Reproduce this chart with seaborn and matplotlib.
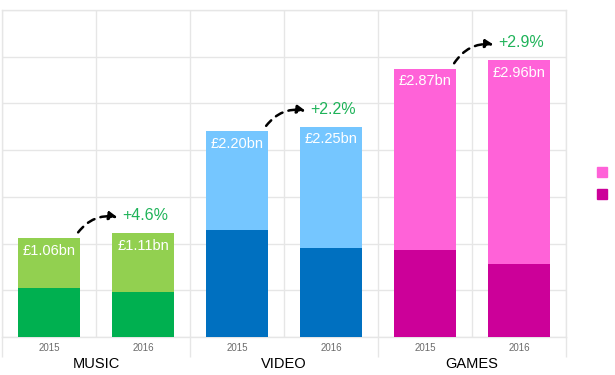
import seaborn as sns
import pandas as pd
import matplotlib.pyplot as plt
from matplotlib.patches import Patch

# UK entertainment market, £bn
categories = ['MUSIC', 'VIDEO', 'GAMES']
years = ['2015', '2016']
totals = [1.06, 1.11, 2.20, 2.25, 2.87, 2.96]
physical = [0.52, 0.48, 1.15, 0.95, 0.93, 0.78]
growth = ['+4.6%', '+2.2%', '+2.9%']

light_colors = ['#92d050', '#92d050', '#75c6ff', '#75c6ff', '#ff62d8', '#ff62d8']
dark_colors = ['#00b050', '#00b050', '#0070c0', '#0070c0', '#cc0099', '#cc0099']
grid_color = '#e6e6e6'

sns.set_theme(style='white')
plt.rcParams['font.family'] = ['Liberation Sans', 'DejaVu Sans']

keys = [f'{c} {y}' for c in categories for y in years]
df = pd.DataFrame({'key': keys, 'total': totals, 'physical': physical})

fig = plt.figure(figsize=(6.15, 3.75), dpi=100)
ax = fig.add_axes([2 / 615, 1 - 337 / 375, 564 / 615, 327 / 375])

sns.barplot(data=df, x='key', y='total', hue='key', palette=light_colors, saturation=1,
            width=0.67, legend=False, ax=ax, zorder=3, linewidth=0)
sns.barplot(data=df, x='key', y='physical', hue='key', palette=dark_colors, saturation=1,
            width=0.67, legend=False, ax=ax, zorder=4, linewidth=0)

ax.set_xlim(-0.5, 5.5)
ax.set_ylim(0, 3.5)
ax.set_yticks([i * 0.5 for i in range(8)])
ax.set_xticks(range(6))
ax.set_xticklabels(years * 3, fontsize=7, color='#6b6b6b')
ax.set_xticks([i - 0.5 for i in range(7)], minor=True)
ax.tick_params(axis='x', which='both', length=0, pad=4)
ax.tick_params(axis='y', left=False, labelleft=False)
ax.grid(True, axis='y', color=grid_color, lw=1, zorder=0)
ax.grid(True, axis='x', which='minor', color=grid_color, lw=1, zorder=0)
ax.grid(False, axis='x', which='major')
ax.set(xlabel='', ylabel='')
for s in ax.spines.values():
    s.set_color(grid_color)
    s.set_linewidth(1)

# separators between groups run down past the axis
ax.vlines([-0.5, 1.5, 3.5, 5.5], -0.21, 0, colors=grid_color, lw=1, clip_on=False)

# value labels inside the bars
for i, v in enumerate(totals):
    ax.text(i, v - 0.135, f'£{v:.2f}bn', color='white', fontsize=10.5,
            ha='center', va='center', zorder=5)

# growth arrows and percentages
for g, c in enumerate(categories):
    a, b = 2 * g, 2 * g + 1
    ax.annotate('', xy=(b - 0.27, totals[b] + 0.17), xytext=(a + 0.31, totals[a] + 0.06),
                arrowprops=dict(arrowstyle='-|>', connectionstyle='arc3,rad=-0.3',
                                linestyle=(0, (3, 2.5)), lw=1.8, color='black',
                                mutation_scale=12, shrinkA=0, shrinkB=0), zorder=6)
    ax.text(b - 0.22, totals[b] + 0.19, growth[g], color='#1fb359', fontsize=11.5,
            ha='left', va='center', zorder=6)
    ax.annotate(c, xy=(a + 0.5, 0), xycoords=('data', 'axes fraction'),
                xytext=(0, -27), textcoords='offset pixels', ha='center', va='center',
                fontsize=10.5, color='black')

# legend: its labels fall outside the picture in the original, only the keys show
handles = [Patch(color=light_colors[4]), Patch(color=dark_colors[4])]
fig.legend(handles, ['', ''], loc='upper left', bbox_to_anchor=(597 / 615, 1 - 166 / 375),
           frameon=False, fontsize=10, handlelength=0.75, handleheight=0.8,
           handletextpad=0, labelspacing=0.55, borderpad=0, borderaxespad=0)

fig.savefig('out.png', dpi=100)
